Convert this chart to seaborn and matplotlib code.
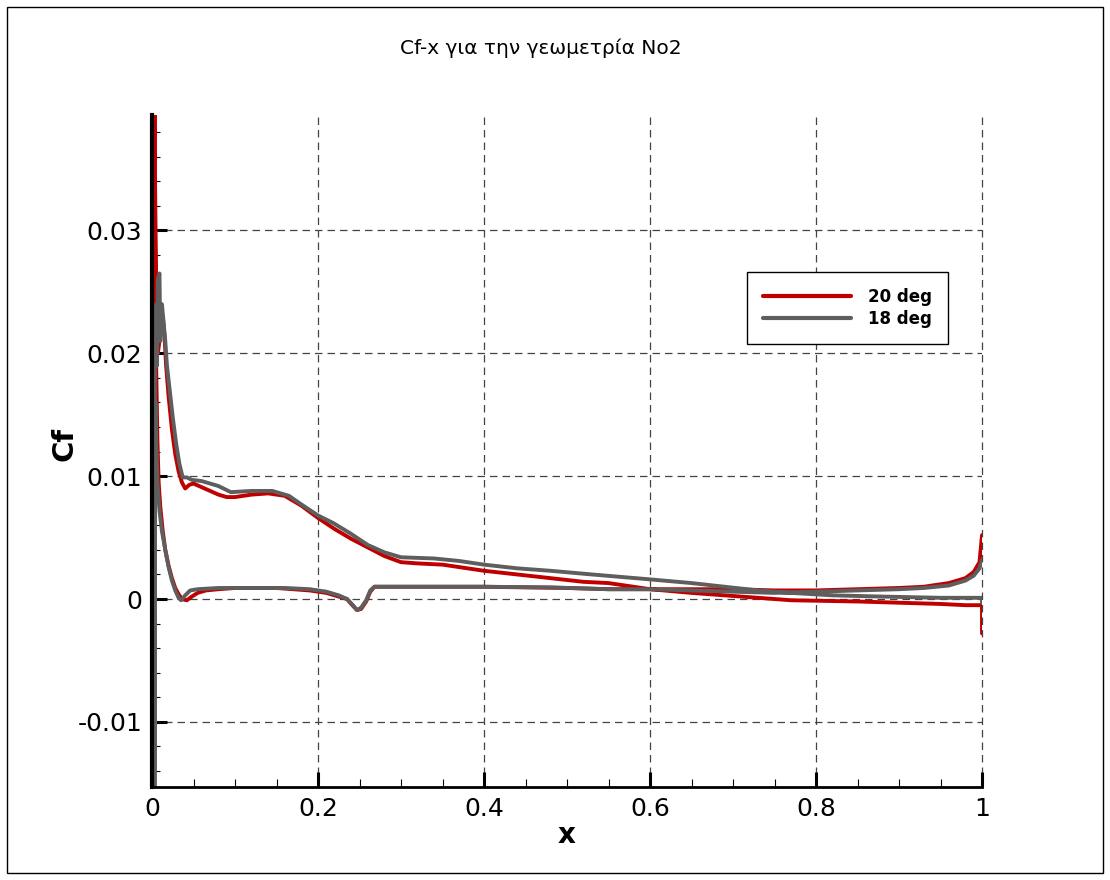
import numpy as np
import pandas as pd
import matplotlib
matplotlib.use("Agg")
import matplotlib.pyplot as plt
import matplotlib.patches as mpatches
from matplotlib.ticker import FixedLocator, FixedFormatter, MultipleLocator
import seaborn as sns

# ---------------- data ----------------
title_text = "Cf-x για την γεωμετρία No2"
series_names = ["20 deg", "18 deg"]

# 20 deg, upper (suction) surface, LE -> TE
x_20_upper = [0.003, 0.0035, 0.004, 0.0045, 0.005, 0.007, 0.009, 0.011, 0.013, 0.015, 0.017, 0.02,
              0.024, 0.028, 0.032, 0.036, 0.040, 0.045, 0.05, 0.06, 0.07, 0.08, 0.09, 0.1, 0.12,
              0.14, 0.16, 0.18, 0.2, 0.22, 0.24, 0.26, 0.28, 0.3, 0.32, 0.35, 0.37, 0.4, 0.44,
              0.48, 0.52, 0.55, 0.6, 0.65, 0.69, 0.73, 0.77, 0.85, 0.9, 0.95, 0.98, 1.0, 1.0]
cf_20_upper = [0.041, 0.036, 0.030, 0.026, 0.022, 0.020, 0.021, 0.0225, 0.023, 0.0215, 0.019, 0.0165,
               0.0138, 0.0118, 0.0104, 0.0095, 0.0090, 0.0093, 0.0094, 0.0091, 0.0088, 0.0085, 0.0083, 0.0083, 0.0085,
               0.0086, 0.0084, 0.0076, 0.0066, 0.0057, 0.0049, 0.0042, 0.0035, 0.0030, 0.0029, 0.0028, 0.0026, 0.0023, 0.0020,
               0.0017, 0.0014, 0.0013, 0.0008, 0.0005, 0.0003, 0.0001, -0.0001, -0.0002, -0.0003, -0.0004, -0.0005, -0.0005, -0.0028]

# 20 deg, lower (pressure) surface, LE -> TE
x_20_lower = [0.003, 0.0035, 0.004, 0.0045, 0.005, 0.0065, 0.008, 0.01, 0.013, 0.016, 0.02, 0.024, 0.028,
              0.032, 0.036, 0.042, 0.048, 0.055, 0.065, 0.08, 0.1, 0.15, 0.19, 0.21, 0.225, 0.235,
              0.24, 0.247, 0.252, 0.258, 0.263, 0.268, 0.3, 0.4, 0.5, 0.55, 0.6, 0.65, 0.7, 0.75,
              0.8, 0.85, 0.9, 0.93, 0.96, 0.98, 0.99, 0.997, 1.0]
cf_20_lower = [0.041, 0.036, 0.030, 0.024, 0.019, 0.013, 0.0095, 0.0075, 0.0055, 0.0040, 0.0027, 0.0017, 0.0009,
               0.0004, 0.0, -0.0001, 0.0002, 0.0005, 0.0007, 0.0008, 0.0009, 0.0009, 0.0007, 0.0005, 0.0002, 0.0,
               -0.0004, -0.0009, -0.0008, -0.0002, 0.0006, 0.0010, 0.0010, 0.0010, 0.0009, 0.0008, 0.0008, 0.0008, 0.0008, 0.0007,
               0.0007, 0.0008, 0.0009, 0.0010, 0.0013, 0.0017, 0.0022, 0.0030, 0.0052]

# 18 deg, upper surface, LE -> TE
x_18_upper = [0.003, 0.0033, 0.0036, 0.005, 0.006, 0.007, 0.009, 0.010, 0.012, 0.014, 0.016, 0.018,
              0.021, 0.025, 0.029, 0.033, 0.037, 0.042, 0.048, 0.06, 0.08, 0.095, 0.12, 0.145, 0.165,
              0.18, 0.2, 0.218, 0.24, 0.26, 0.28, 0.3, 0.34, 0.37, 0.4, 0.44, 0.48, 0.53, 0.6,
              0.65, 0.69, 0.73, 0.77, 0.82, 0.88, 0.95, 1.0, 1.0]
cf_18_upper = [-0.017, 0.005, 0.020, 0.024, 0.019, 0.026, 0.0265, 0.021, 0.024, 0.0225, 0.021, 0.019,
               0.0172, 0.0148, 0.0127, 0.0110, 0.0099, 0.0099, 0.0097, 0.0096, 0.0092, 0.0087, 0.0088, 0.0088, 0.0084,
               0.0077, 0.0068, 0.0062, 0.0053, 0.0044, 0.0038, 0.0034, 0.0033, 0.0031, 0.0028, 0.0025, 0.0023, 0.0020, 0.0016,
               0.0013, 0.0010, 0.0007, 0.0005, 0.0003, 0.0002, 0.0001, 0.0001, -0.0003]

# 18 deg, lower surface, LE -> TE
x_18_lower = [0.003, 0.0033, 0.0036, 0.0042, 0.005, 0.0065, 0.009, 0.012, 0.016, 0.02, 0.024, 0.028,
              0.032, 0.035, 0.04, 0.046, 0.055, 0.08, 0.12, 0.16, 0.19, 0.21, 0.225, 0.235, 0.242,
              0.247, 0.252, 0.258, 0.263, 0.268, 0.3, 0.4, 0.48, 0.55, 0.6, 0.65, 0.7, 0.75, 0.8,
              0.85, 0.9, 0.93, 0.96, 0.98, 0.99, 0.997, 1.0]
cf_18_lower = [-0.017, 0.0, 0.012, 0.016, 0.013, 0.0095, 0.0072, 0.0055, 0.0040, 0.0026, 0.0015, 0.0007,
               0.0001, -0.0001, 0.0003, 0.0007, 0.0008, 0.0009, 0.0009, 0.0009, 0.0008, 0.0006, 0.0003, 0.0, -0.0005,
               -0.0009, -0.0007, -0.0001, 0.0007, 0.0010, 0.0010, 0.0010, 0.00095, 0.0008, 0.0008, 0.0007, 0.0006, 0.0005, 0.0006,
               0.0007, 0.0008, 0.0009, 0.0011, 0.0015, 0.0019, 0.0025, 0.0032]

x_ticks = [0.0, 0.2, 0.4, 0.6, 0.8, 1.0]
x_tick_labels = ["0", "0.2", "0.4", "0.6", "0.8", "1"]
y_ticks = [-0.01, 0.0, 0.01, 0.02, 0.03]
y_tick_labels = ["-0.01", "0", "0.01", "0.02", "0.03"]

# ---------------- build long table: each series is a closed loop (TE->LE along lower, LE->TE along upper)
rows = []
loops = {
    "20 deg": (x_20_lower, cf_20_lower, x_20_upper, cf_20_upper),
    "18 deg": (x_18_lower, cf_18_lower, x_18_upper, cf_18_upper),
}
for name in series_names:
    xl, cl, xu, cu = loops[name]
    xs = list(reversed(xl)) + list(xu)
    cs = list(reversed(cl)) + list(cu)
    for i, (a, b) in enumerate(zip(xs, cs)):
        rows.append({"x": a, "Cf": b, "series": name, "order": i})
df = pd.DataFrame(rows)

# ---------------- style ----------------
sns.set_style("white")
plt.rcParams["font.family"] = ["DejaVu Sans"]
plt.rcParams["text.color"] = "black"
plt.rcParams["axes.labelcolor"] = "black"
plt.rcParams["xtick.color"] = "black"
plt.rcParams["ytick.color"] = "black"

fig = plt.figure(figsize=(11.1, 8.8), dpi=100)
ax = fig.add_axes([152/1110, 1-787/880, (982-152)/1110, (787-115)/880])

palette = {"20 deg": "#c00000", "18 deg": "#5e5e5e"}
sns.lineplot(data=df, x="x", y="Cf", hue="series", hue_order=series_names,
             palette=palette, sort=False, estimator=None, units="series",
             linewidth=2.8, ax=ax, legend=True)

ax.set_xlim(0.0, 1.0)
ax.set_ylim(-0.0153, 0.0394)

ax.xaxis.set_major_locator(FixedLocator(x_ticks))
ax.xaxis.set_major_formatter(FixedFormatter(x_tick_labels))
ax.xaxis.set_minor_locator(MultipleLocator(0.05))
ax.yaxis.set_major_locator(FixedLocator(y_ticks))
ax.yaxis.set_major_formatter(FixedFormatter(y_tick_labels))
ax.yaxis.set_minor_locator(MultipleLocator(0.002))

ax.tick_params(which="major", direction="in", length=11, width=2.2, colors="black",
               labelsize=18, pad=7, labelcolor="black")
ax.tick_params(which="minor", direction="in", length=5.5, width=0.8, colors="black")
ax.tick_params(axis="y", which="both", left=True, right=False)
ax.tick_params(axis="x", which="both", bottom=True, top=False)

ax.grid(which="major", color="#444444", linestyle=(0, (6, 4)), linewidth=0.9)
ax.set_axisbelow(True)
for gl in ax.get_xgridlines():
    gl.set_clip_on(False)

for s in ["top", "right"]:
    ax.spines[s].set_visible(False)
ax.spines["left"].set_linewidth(3.0)
ax.spines["bottom"].set_linewidth(2.0)
ax.spines["left"].set_color("black")
ax.spines["bottom"].set_color("black")

ax.set_xlabel("x", fontsize=20, fontweight="bold", color="black")
ax.set_ylabel("Cf", fontsize=21, fontweight="bold", color="black")
ax.xaxis.set_label_coords(0.5, -0.05)
ax.yaxis.set_label_coords(-0.088, 0.51)

leg = ax.legend(loc="upper left", bbox_to_anchor=(747/1110, 1-272/880),
                bbox_transform=fig.transFigure, borderaxespad=0,
                prop={"weight": "bold", "size": 12}, frameon=True, fancybox=False,
                edgecolor="black", framealpha=1, handlelength=5.3, handletextpad=1.0,
                labelspacing=0.25, borderpad=0.95, title=None)
leg.get_frame().set_linewidth(1.0)
for t in leg.get_texts():
    t.set_color("black")
for h in leg.get_lines():
    h.set_linewidth(3)

fig.text(541/1110, 1-48/880, title_text, ha="center", va="center", fontsize=14.5, color="black")

fig.patches.append(mpatches.Rectangle((7/1110, 7/880), 1-14/1110, 1-14/880,
                                      transform=fig.transFigure, fill=False,
                                      edgecolor="black", linewidth=1.0))

fig.savefig("out.png", dpi=100, facecolor="white")
